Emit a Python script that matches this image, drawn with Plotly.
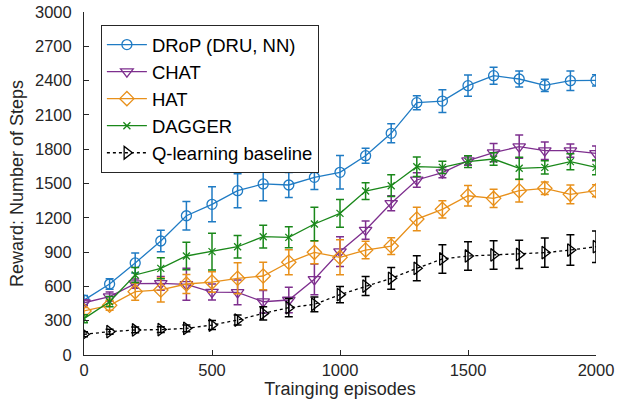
import plotly.graph_objects as go

episodes = [0, 100, 200, 300, 400, 500, 600, 700, 800, 900, 1000,
            1100, 1200, 1300, 1400, 1500, 1600, 1700, 1800, 1900, 2000]

drop_mean = [480, 621, 805, 997, 1218, 1318, 1437, 1496, 1487, 1554, 1598,
             1743, 1939, 2207, 2221, 2356, 2443, 2414, 2358, 2399, 2402]
drop_err = [40, 45, 87, 95, 124, 153, 149, 146, 109, 106, 146,
            66, 83, 61, 99, 92, 74, 70, 54, 86, 50]

chat_mean = [457, 510, 624, 627, 618, 550, 548, 466, 481, 662, 905,
             1093, 1327, 1531, 1595, 1700, 1770, 1822, 1787, 1787, 1764]
chat_err = [25, 40, 40, 60, 140, 70, 109, 98, 112, 134, 130,
            80, 66, 64, 44, 40, 80, 102, 77, 58, 64]

hat_mean = [385, 435, 554, 569, 621, 638, 671, 691, 811, 898, 854,
            918, 953, 1189, 1274, 1393, 1370, 1437, 1458, 1405, 1437]
hat_err = [30, 44, 76, 105, 83, 90, 136, 120, 109, 100, 153,
           77, 73, 103, 76, 90, 80, 98, 55, 82, 52]

dagger_mean = [318, 466, 700, 758, 866, 904, 947, 1035, 1029, 1146, 1239,
               1434, 1481, 1647, 1641, 1691, 1714, 1633, 1641, 1691, 1641]
dagger_err = [35, 45, 65, 92, 121, 160, 99, 99, 92, 146, 122,
              73, 95, 85, 54, 51, 55, 96, 58, 70, 64]

q_mean = [181, 204, 219, 222, 233, 262, 306, 364, 414, 443, 528,
          603, 671, 758, 840, 866, 875, 880, 895, 918, 947]
q_err = [22, 22, 25, 25, 30, 40, 44, 58, 80, 65, 72,
         83, 95, 109, 124, 124, 124, 124, 128, 134, 137]

series = [
    ("DRoP (DRU, NN)", drop_mean, drop_err, "#1f7bc4", "circle-open", 10, "solid"),
    ("CHAT", chat_mean, chat_err, "#7E2F8E", "triangle-down-open", 11, "solid"),
    ("HAT", hat_mean, hat_err, "#E8901A", "diamond-open", 11, "solid"),
    ("DAGGER", dagger_mean, dagger_err, "#1a881a", "x-thin-open", 7, "solid"),
    ("Q-learning baseline", q_mean, q_err, "#000000", "triangle-right-open", 11, "dot"),
]

fig = go.Figure()
for name, y, e, col, sym, ms, dash in series:
    fig.add_trace(go.Scatter(
        x=episodes, y=y, name=name, mode="lines+markers",
        line=dict(color=col, width=1.3, dash=dash),
        marker=dict(symbol=sym, size=ms, color=col, line=dict(color=col, width=1.3)),
        error_y=dict(type="data", array=e, visible=True, color=col, thickness=1.5, width=4),
    ))

axis_col = "#262626"
fig.update_layout(
    width=626, height=415,
    margin=dict(l=84, r=30, t=12, b=60),
    paper_bgcolor="white", plot_bgcolor="white",
    font=dict(family="Liberation Sans, Arial, sans-serif", size=16.5, color=axis_col),
    showlegend=True,
    legend=dict(
        x=0.033, y=0.962, xanchor="left", yanchor="top",
        bgcolor="white", bordercolor="#262626", borderwidth=1,
        font=dict(size=18.5, color="#000000"),
        tracegroupgap=0, itemwidth=40,
    ),
    xaxis=dict(
        range=[0, 2000], tickvals=[0, 500, 1000, 1500, 2000],
        showline=True, linecolor=axis_col, linewidth=1,
        ticks="inside", ticklen=5, tickcolor=axis_col,
        showgrid=False, zeroline=False, automargin=False,
        title=dict(text="Trainging episodes", font=dict(size=18), standoff=4),
        tickfont=dict(size=16.5),
    ),
    yaxis=dict(
        range=[0, 3000], tickvals=list(range(0, 3001, 300)),
        showline=True, linecolor=axis_col, linewidth=1,
        ticks="inside", ticklen=5, tickcolor=axis_col,
        showgrid=False, zeroline=False, automargin=False,
        ticklabelstandoff=8, ticklabeloverflow="allow",
        title=dict(text="Reward: Number of Steps", font=dict(size=18), standoff=6),
        tickfont=dict(size=16.5),
    ),
)

fig.write_html("out.html", config={"displayModeBar": False},
               post_script="document.body.style.margin='0';")
